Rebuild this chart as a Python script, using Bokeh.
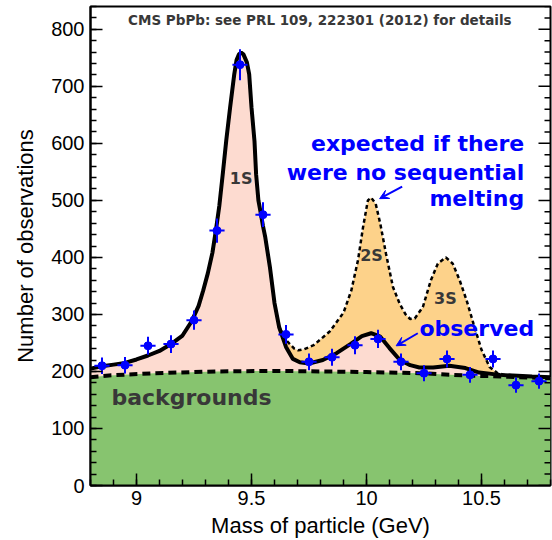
from bokeh.plotting import figure
from bokeh.models import (Range1d, SingleIntervalTicker, NumeralTickFormatter,
                          Label, Arrow, VeeHead, ColumnDataSource)
from bokeh.embed import file_html
from bokeh.resources import INLINE

# ---------------- data ----------------
# measured points: bin centres (GeV), counts, statistical errors
mass = [8.85, 8.95, 9.05, 9.15, 9.25, 9.35, 9.45, 9.55, 9.65, 9.75,
        9.85, 9.95, 10.05, 10.15, 10.25, 10.35, 10.45, 10.55, 10.65, 10.75]
counts = [210, 211, 245, 248, 290, 447, 738, 475, 265, 217,
          225, 246, 257, 217, 197, 222, 194, 222, 176, 183]
count_err = [14.5, 14.5, 15.7, 15.7, 17.0, 21.1, 27.2, 21.8, 16.3, 14.7,
             15.0, 15.7, 16.0, 14.7, 14.0, 14.9, 13.9, 14.9, 13.3, 13.5]

# observed fit (solid curve)
obs_x = [8.80, 8.85, 8.90, 8.95, 9.00, 9.05, 9.10, 9.15, 9.20, 9.24, 9.27, 9.29,
         9.31, 9.33, 9.345, 9.36, 9.375, 9.39, 9.407, 9.425, 9.435, 9.445, 9.455,
         9.465, 9.48, 9.49, 9.50, 9.513, 9.52, 9.53, 9.54, 9.55, 9.56, 9.58, 9.60,
         9.62, 9.65, 9.68, 9.71, 9.75, 9.81, 9.87, 9.93, 9.98, 10.02, 10.06, 10.10,
         10.145, 10.19, 10.23, 10.29, 10.36, 10.43, 10.49, 10.58, 10.72, 10.80]
obs_y = [205, 209, 212, 215, 221, 228, 236, 248, 263, 288, 315, 342,
         372, 408, 447, 490, 546, 604, 663, 721, 746, 756, 759,
         756, 742, 721, 663, 604, 546, 500, 478, 455, 435, 383, 320,
         278, 243, 222, 216, 214, 220, 232, 248, 262, 267, 261, 241,
         220, 211, 207, 207, 210, 206, 198, 194, 191, 190]

# expected fit without sequential melting (dashed curve): same as observed up to 9.62 GeV
exp_tail_x = [9.65, 9.686, 9.703, 9.73, 9.77, 9.84, 9.90, 9.934, 9.963, 9.985, 10.006,
              10.02, 10.04, 10.06, 10.085, 10.115, 10.145, 10.17, 10.19, 10.21, 10.245,
              10.28, 10.31, 10.345, 10.375, 10.405, 10.435, 10.465, 10.50, 10.535,
              10.57, 10.60, 10.72, 10.80]
exp_tail_y = [255, 240, 237, 239, 246, 270, 303, 342, 395, 453, 500,
              505, 494, 459, 406, 348, 318, 300, 292, 293, 313,
              360, 389, 400, 389, 360, 325, 284, 238, 208,
              197, 194, 191, 190]

# background (thick dashed curve)
bg_x = [8.80, 8.88, 9.08, 9.35, 9.60, 9.80, 10.00, 10.23, 10.43, 10.60, 10.80]
bg_y = [190, 193, 197, 200, 201, 200, 199, 197, 193, 191, 188]

# y tick values mirrored on the right frame edge
right_major = [0, 100, 200, 300, 400, 500, 600, 700, 800]
right_minor = [20, 40, 60, 80, 120, 140, 160, 180, 220, 240, 260, 280, 320, 340, 360, 380,
               420, 440, 460, 480, 520, 540, 560, 580, 620, 640, 660, 680, 720, 740, 760,
               780, 820, 840]

x_ticks_fmt = "0.[0]"

# ---------------- derived ----------------
n_head = sum(1 for v in obs_x if v <= 9.62)
exp_x = obs_x[:n_head] + exp_tail_x
exp_y = obs_y[:n_head] + exp_tail_y

X0, X1, Y0, Y1 = 8.8, 10.8, 0, 840

p = figure(width=552, height=540, output_backend="svg", toolbar_location=None,
           x_range=Range1d(X0, X1), y_range=Range1d(Y0, Y1),
           min_border_left=90, min_border_right=2, min_border_top=6, min_border_bottom=54)
p.grid.visible = False
p.background_fill_color = "white"
p.border_fill_color = "white"
p.outline_line_color = "black"
p.outline_line_width = 2

# fills
p.patch(exp_x + bg_x[::-1], exp_y + bg_y[::-1], fill_color="#fdd28a", line_color=None)
p.patch(obs_x + bg_x[::-1], obs_y + bg_y[::-1], fill_color="#fddbd0", line_color=None)
p.patch(bg_x + [X1, X0], bg_y + [0, 0], fill_color="#87c46f", line_color=None)

# curves
p.line(bg_x, bg_y, line_color="black", line_width=4, line_dash="8 5")
p.line(exp_x, exp_y, line_color="black", line_width=2.5, line_dash="4 3")
p.line(obs_x, obs_y, line_color="black", line_width=4)

# data points with error bars
half_bin = 0.033
src = ColumnDataSource(dict(
    x=mass, y=counts,
    ylo=[c - e for c, e in zip(counts, count_err)],
    yhi=[c + e for c, e in zip(counts, count_err)],
    xlo=[m - half_bin for m in mass],
    xhi=[m + half_bin for m in mass],
))
p.segment(x0="x", y0="ylo", x1="x", y1="yhi", source=src, line_color="#0000ff", line_width=2)
p.segment(x0="xlo", y0="y", x1="xhi", y1="y", source=src, line_color="#0000ff", line_width=2)
p.scatter(x="x", y="y", source=src, size=8, fill_color="#0000ff", line_color="#0000ff")

# axes
for ax in (p.xaxis[0], p.yaxis[0]):
    ax.axis_line_width = 2
    ax.major_tick_in = 12
    ax.major_tick_out = 0
    ax.minor_tick_in = 6
    ax.minor_tick_out = 0
    ax.major_tick_line_width = 1.5
    ax.minor_tick_line_width = 1.5
    ax.major_label_text_font = "Liberation Sans"
    ax.major_label_text_font_size = "20px"
    ax.major_label_text_color = "black"
    ax.axis_label_text_font = "Liberation Sans"
    ax.axis_label_text_font_size = "22px"
    ax.axis_label_text_font_style = "normal"
    ax.axis_label_text_color = "black"

p.xaxis[0].ticker = SingleIntervalTicker(interval=0.5, num_minor_ticks=5)
p.xaxis[0].formatter = NumeralTickFormatter(format=x_ticks_fmt)
p.xaxis[0].axis_label = "Mass of particle (GeV)"
p.xaxis[0].major_label_standoff = 5
p.xaxis[0].axis_label_standoff = 5

p.yaxis[0].ticker = SingleIntervalTicker(interval=100, num_minor_ticks=5)
p.yaxis[0].axis_label = "Number of observations"
p.yaxis[0].major_label_standoff = 6
p.yaxis[0].axis_label_standoff = 10

# mirrored ticks on the right frame edge (pointing inward)
p.ray(x=[X1] * len(right_major), y=right_major, length=12, length_units="screen",
      angle=180, angle_units="deg", line_color="black", line_width=1.5)
p.ray(x=[X1] * len(right_minor), y=right_minor, length=6, length_units="screen",
      angle=180, angle_units="deg", line_color="black", line_width=1.5)

# annotations
dark = "#383838"
blue = "#0000ff"
p.add_layout(Label(x=9.797, y=817, text="CMS PbPb: see PRL 109, 222301 (2012) for details",
                   text_font="DejaVu Sans", text_font_style="bold", text_font_size="13.5px",
                   text_color=dark, text_align="center", text_baseline="middle"))
p.add_layout(Label(x=9.455, y=538, text="1S", text_font="DejaVu Sans", text_font_style="bold",
                   text_font_size="16px", text_color=dark, text_align="center", text_baseline="middle"))
p.add_layout(Label(x=10.022, y=403, text="2S", text_font="DejaVu Sans", text_font_style="bold",
                   text_font_size="16px", text_color=dark, text_align="center", text_baseline="middle"))
p.add_layout(Label(x=10.343, y=328, text="3S", text_font="DejaVu Sans", text_font_style="bold",
                   text_font_size="16px", text_color=dark, text_align="center", text_baseline="middle"))
p.add_layout(Label(x=8.891, y=155, text="backgrounds", text_font="DejaVu Sans", text_font_style="bold",
                   text_font_size="22px", text_color=dark, text_align="left", text_baseline="middle"))
for txt, yy in (("expected if there", 599), ("were no sequential", 549), ("melting", 503)):
    p.add_layout(Label(x=10.686, y=yy, text=txt, text_font="DejaVu Sans", text_font_style="bold",
                       text_font_size="22px", text_color=blue, text_align="right", text_baseline="middle"))
p.add_layout(Label(x=10.23, y=275, text="observed", text_font="DejaVu Sans", text_font_style="bold",
                   text_font_size="22px", text_color=blue, text_align="left", text_baseline="middle"))

p.add_layout(Arrow(end=VeeHead(size=9, fill_color=blue, line_color=blue, line_width=1),
                   x_start=10.155, y_start=524, x_end=10.057, y_end=503,
                   line_color=blue, line_width=2))
p.add_layout(Arrow(end=VeeHead(size=9, fill_color=blue, line_color=blue, line_width=1),
                   x_start=10.223, y_start=267, x_end=10.129, y_end=245,
                   line_color=blue, line_width=2))

open("out.html", "w").write(file_html(p, INLINE))
